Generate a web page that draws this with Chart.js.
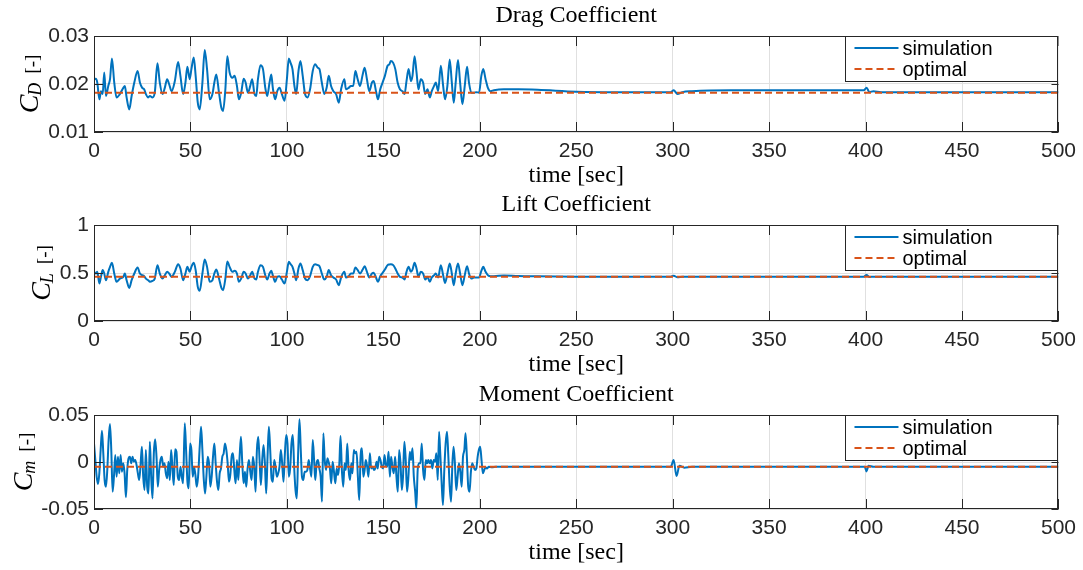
<!DOCTYPE html>
<html lang="en">
<head>
<meta charset="UTF-8">
<title>Drag, Lift and Moment Coefficients</title>
<style>
    body { margin: 0; background: #fff; }
    .panel { position: absolute; left: 0; width: 1083px; height: 190px; }
</style>
<script src="https://cdn.jsdelivr.net/npm/chart.js"></script>
</head>
<body>
<div class="panel" style="top:0px"><canvas id="cdChart" width="1083" height="190"></canvas></div>
<div class="panel" style="top:190px"><canvas id="clChart" width="1083" height="190"></canvas></div>
<div class="panel" style="top:380px"><canvas id="cmChart" width="1083" height="190"></canvas></div>
<script>
// ---- axis ticks ----
const timeTicks = [0, 50, 100, 150, 200, 250, 300, 350, 400, 450, 500];
const cdTicks = [0.01, 0.02, 0.03];
const cdTickLabels = ['0.01', '0.02', '0.03'];
const clTicks = [0, 0.5, 1];
const clTickLabels = ['0', '0.5', '1'];
const cmTicks = [-0.05, 0, 0.05];
const cmTickLabels = ['-0.05', '0', '0.05'];

// ---- optimal (reference) values ----
const optimalTime = [0, 500];
const cdOptimal = [0.0182, 0.0182];
const clOptimal = [0.46, 0.46];
const cmOptimal = [-0.005, -0.005];

// ---- simulation: drag and lift share the same time samples ----
const cdTime = [0.0,1.0,1.7,2.8,3.6,4.5,5.3,6.2,7.4,8.3,9.3,10.5,11.7,13.4,15.2,16.0,16.9,18.3,19.5,20.9,
    22.6,23.8,25.0,26.0,26.9,28.1,29.0,30.3,31.5,32.9,34.1,35.5,36.7,37.9,39.0,40.2,41.9,43.6,44.8,46.2,
    47.4,48.4,49.6,50.5,51.7,52.7,53.8,54.8,56.2,57.4,58.6,60.0,61.4,62.4,63.4,64.8,66.0,66.9,68.1,69.1,
    70.3,71.7,72.9,74.1,75.1,76.3,77.6,78.6,79.8,81.0,82.0,83.2,84.1,85.0,86.3,87.6,88.8,89.8,91.0,91.9,
    92.7,93.9,95.0,96.2,97.4,98.8,100.0,101.0,101.9,102.9,103.9,104.8,106.0,107.0,108.2,109.4,110.7,112.0,113.4,114.6,
    116.0,116.9,118.1,119.4,120.6,121.7,122.9,124.1,125.5,126.9,128.1,129.8,130.6,132.0,133.2,134.4,135.5,136.7,137.9,139.3,
    140.3,141.5,142.7,144.1,145.0,146.2,147.2,148.4,149.6,150.8,152.2,153.1,153.9,155.1,156.2,157.4,158.6,159.9,161.0,162.0,
    163.1,164.3,165.1,166.2,167.2,168.2,169.4,170.6,171.7,172.9,174.1,175.1,176.3,177.2,178.4,179.8,181.0,182.0,183.2,184.4,
    185.5,186.5,187.5,188.7,189.8,191.0,192.2,193.4,194.4,195.6,197.0,198.2,199.6,200.8,201.8,203.0,204.2,205.6,207.3,212.5,
    220,230,250,270,290,299,300.5,302.5,305,310,330,360,390,399,400.5,402,404,408,420,500];

const cdSim = [0.0210,0.0211,0.0203,0.0168,0.0185,0.0179,0.0224,0.0175,0.0196,0.0210,
    0.0253,0.0203,0.0172,0.0179,0.0192,0.0196,0.0172,0.0147,0.0175,0.0203,
    0.0227,0.0203,0.0192,0.0189,0.0179,0.0172,0.0175,0.0172,0.0182,0.0243,
    0.0203,0.0179,0.0192,0.0210,0.0199,0.0185,0.0206,0.0246,0.0217,0.0179,
    0.0203,0.0236,0.0210,0.0231,0.0255,0.0217,0.0161,0.0147,0.0203,0.0271,
    0.0231,0.0168,0.0179,0.0203,0.0220,0.0182,0.0151,0.0144,0.0189,0.0258,
    0.0224,0.0213,0.0217,0.0196,0.0168,0.0182,0.0211,0.0203,0.0182,0.0196,
    0.0210,0.0179,0.0175,0.0210,0.0239,0.0231,0.0192,0.0175,0.0203,0.0220,
    0.0192,0.0168,0.0185,0.0192,0.0179,0.0165,0.0210,0.0253,0.0244,0.0231,
    0.0196,0.0179,0.0227,0.0248,0.0217,0.0179,0.0172,0.0189,0.0227,0.0241,
    0.0234,0.0231,0.0203,0.0179,0.0192,0.0217,0.0196,0.0185,0.0179,0.0161,
    0.0189,0.0210,0.0189,0.0192,0.0196,0.0196,0.0227,0.0210,0.0196,0.0220,
    0.0234,0.0210,0.0185,0.0203,0.0206,0.0185,0.0168,0.0189,0.0203,0.0217,
    0.0238,0.0241,0.0248,0.0244,0.0231,0.0203,0.0189,0.0185,0.0179,0.0206,
    0.0231,0.0206,0.0217,0.0258,0.0224,0.0189,0.0210,0.0203,0.0179,0.0189,
    0.0172,0.0185,0.0196,0.0203,0.0185,0.0238,0.0196,0.0168,0.0196,0.0251,
    0.0203,0.0161,0.0203,0.0250,0.0203,0.0158,0.0196,0.0236,0.0203,0.0182,
    0.0182,0.0183,0.0182,0.0217,0.0231,0.0210,0.0192,0.0185,0.0187,0.0189,
    0.0189,0.0188,0.0184,0.0183,0.0183,0.0183,0.0187,0.0179,0.0183,0.0185,
    0.0187,0.0187,0.0187,0.0187,0.0192,0.0183,0.0185,0.0183,0.0183,0.0183];

const clSim = [0.512,0.495,0.512,0.390,0.460,0.530,0.495,0.425,0.512,0.564,
    0.606,0.495,0.408,0.442,0.460,0.495,0.425,0.345,0.425,0.495,
    0.557,0.495,0.477,0.467,0.442,0.425,0.408,0.418,0.442,0.582,
    0.495,0.442,0.477,0.512,0.495,0.460,0.512,0.592,0.547,0.425,
    0.495,0.564,0.512,0.564,0.606,0.530,0.355,0.314,0.495,0.641,
    0.564,0.408,0.425,0.495,0.536,0.442,0.348,0.321,0.442,0.620,
    0.564,0.512,0.523,0.495,0.408,0.442,0.512,0.495,0.442,0.477,
    0.512,0.442,0.432,0.512,0.582,0.564,0.477,0.432,0.495,0.523,
    0.477,0.408,0.460,0.467,0.432,0.390,0.512,0.617,0.592,0.564,
    0.495,0.425,0.547,0.599,0.530,0.442,0.425,0.467,0.564,0.592,
    0.582,0.571,0.495,0.432,0.460,0.530,0.477,0.453,0.432,0.373,
    0.453,0.512,0.453,0.467,0.495,0.495,0.557,0.530,0.495,0.536,
    0.571,0.512,0.453,0.495,0.502,0.453,0.408,0.467,0.502,0.536,
    0.582,0.589,0.592,0.582,0.547,0.495,0.460,0.453,0.432,0.512,
    0.564,0.512,0.536,0.606,0.547,0.460,0.512,0.495,0.432,0.460,
    0.408,0.453,0.477,0.495,0.453,0.582,0.477,0.397,0.495,0.599,
    0.495,0.373,0.495,0.599,0.495,0.373,0.477,0.571,0.495,0.442,
    0.453,0.453,0.453,0.523,0.564,0.512,0.477,0.467,0.467,0.474,
    0.468,0.465,0.462,0.461,0.461,0.461,0.472,0.455,0.460,0.461,
    0.462,0.462,0.462,0.462,0.478,0.458,0.462,0.460,0.460,0.460];

// ---- simulation: moment coefficient ----
const cmTime = [0.0,0.69,1.38,2.07,2.76,3.45,4.13,4.82,5.51,6.20,6.89,7.58,8.27,8.96,9.65,10.34,11.03,11.72,12.41,13.10,
    13.79,14.48,15.17,15.86,16.54,17.23,17.92,18.61,19.30,19.99,20.68,21.37,22.06,22.75,23.44,24.13,24.82,25.51,26.20,26.89,
    27.57,28.26,28.95,29.64,30.33,31.02,31.71,32.40,33.09,33.78,34.47,35.16,35.85,36.54,37.23,37.92,38.61,39.30,39.98,40.67,
    41.36,42.05,42.74,43.43,44.12,44.81,45.50,46.19,47.05,47.74,48.43,49.12,49.81,50.50,51.19,51.88,52.57,53.26,53.95,54.81,
    55.50,56.19,56.88,57.57,58.26,58.94,59.63,60.32,61.01,61.70,62.39,63.08,63.77,64.46,65.15,65.84,66.53,67.22,67.91,68.60,
    69.29,69.97,70.66,71.35,72.04,72.73,73.42,74.11,74.80,75.49,76.18,76.87,77.56,78.25,78.94,79.63,80.32,81.01,81.70,82.38,
    83.07,83.76,84.45,85.14,85.83,86.52,87.21,87.90,88.59,89.28,89.97,90.66,91.35,92.04,92.73,93.42,94.11,94.80,95.48,96.17,
    96.86,97.55,98.24,98.93,99.62,100.31,101.00,101.69,102.38,103.07,103.76,104.45,105.14,105.83,106.51,
    107.2,107.8,108.5,109.2,109.9,110.6,111.3,112.0,112.7,113.4,114.1,114.7,115.4,116.1,116.8,117.5,118.2,118.9,119.6,120.3,
    121.0,121.6,122.3,123.0,123.7,124.4,125.1,125.8,126.5,127.2,127.8,128.5,129.2,129.9,130.6,131.3,132.0,132.7,133.4,134.0,
    134.7,135.4,136.1,136.8,137.5,138.2,138.9,139.6,140.3,140.9,141.6,142.3,143.0,143.7,144.4,145.1,145.8,146.5,147.1,147.8,
    148.5,149.2,149.9,150.6,151.3,152.0,152.7,153.4,154.0,154.7,155.4,156.1,156.8,157.5,158.2,158.9,159.6,160.2,160.9,161.6,
    162.3,163.0,163.7,164.4,165.1,165.8,166.5,167.1,167.8,168.5,169.2,169.9,170.6,171.3,172.0,172.7,173.3,174.0,174.7,175.4,
    176.1,176.8,177.5,178.2,178.9,179.5,180.2,180.9,181.6,182.3,183.0,183.7,184.4,185.1,185.8,186.4,187.1,187.8,188.5,189.2,
    189.9,190.6,191.3,192.0,192.6,193.3,194.0,194.7,195.4,196.1,196.8,197.5,198.2,198.9,199.5,200.2,200.9,201.6,202.3,203.0,
    203.7,204.7,206.4,208.2,212.5,
    250,299,300.5,302,303.5,306,310,399.5,400.5,401.5,404,500];

const cmSim = [0.0198,0.0021,-0.0156,-0.0234,-0.0121,0.0128,0.0333,0.0092,-0.0192,-0.0263,-0.0085,0.0234,0.0404,0.0128,-0.0316,-0.0156,0.0074,-0.0156,0.0057,-0.0121,
    0.0074,-0.0103,-0.0014,-0.0121,-0.0376,-0.0085,0.0039,0.0057,-0.0014,0.0057,0.0003,0.0021,-0.0032,-0.0121,-0.0192,-0.0032,0.0163,-0.0156,-0.0298,0.0128,
    -0.0263,-0.0334,0.0216,-0.0156,-0.0387,0.0092,0.0241,0.0057,-0.0263,-0.0085,0.0021,0.0057,-0.0050,-0.0014,-0.0121,-0.0174,0.0003,-0.0192,0.0128,-0.0068,
    -0.0245,0.0135,0.0110,-0.0156,-0.0192,-0.0050,-0.0156,-0.0227,0.0411,0.0128,-0.0209,-0.0280,0.0198,0.0128,-0.0156,-0.0050,-0.0138,-0.0263,-0.0156,0.0163,
    0.0376,0.0128,-0.0174,-0.0334,-0.0156,0.0057,-0.0014,-0.0263,-0.0156,0.0057,0.0198,-0.0014,-0.0209,-0.0298,-0.0121,-0.0068,0.0057,0.0092,0.0198,0.0128,
    -0.0014,-0.0209,-0.0138,0.0057,0.0092,-0.0085,-0.0227,0.0021,-0.0192,0.0057,0.0269,-0.0014,-0.0227,-0.0103,-0.0263,-0.0068,0.0021,-0.0103,-0.0192,0.0057,
    -0.0050,-0.0316,0.0128,0.0269,0.0021,-0.0245,0.0021,0.0181,-0.0014,-0.0334,0.0057,0.0376,0.0128,-0.0174,-0.0209,0.0021,-0.0050,-0.0156,-0.0121,-0.0050,
    0.0128,-0.0014,-0.0209,0.0074,0.0287,0.0198,-0.0156,-0.0068,0.0198,0.0287,-0.0050,-0.0298,-0.0387,0.0092,0.0454,
    0.0128,-0.0156,-0.0192,-0.0103,-0.0103,-0.0085,0.0021,-0.0068,-0.0156,0.0234,0.0021,-0.0192,-0.0014,0.0021,-0.0068,-0.0156,-0.0422,0.0305,0.0021,-0.0085,
    0.0039,0.0003,-0.0068,-0.0227,0.0003,-0.0103,-0.0227,-0.0068,-0.0138,-0.0014,0.0276,-0.0085,-0.0263,-0.0014,-0.0085,0.0198,-0.0085,-0.0192,-0.0014,-0.0121,
    0.0128,0.0092,0.0110,-0.0156,-0.0404,0.0057,0.0145,-0.0156,-0.0085,0.0021,-0.0050,-0.0156,0.0092,-0.0068,-0.0050,-0.0085,-0.0068,0.0003,-0.0068,0.0057,
    0.0021,-0.0050,-0.0068,0.0074,-0.0032,-0.0050,0.0110,-0.0156,0.0057,-0.0050,-0.0121,0.0057,-0.0156,-0.0316,0.0128,-0.0014,-0.0298,-0.0156,0.0216,0.0021,
    -0.0316,-0.0156,0.0110,0.0021,0.0145,-0.0156,-0.0316,-0.0493,-0.0085,-0.0014,-0.0014,0.0198,-0.0085,-0.0192,0.0021,-0.0014,0.0021,-0.0014,0.0021,-0.0068,
    0.0021,0.0003,0.0092,-0.0192,0.0323,0.0092,-0.0209,-0.0458,-0.0085,0.0198,0.0323,0.0057,-0.0263,-0.0422,-0.0014,0.0163,-0.0014,-0.0298,-0.0156,-0.0014,
    -0.0103,-0.0263,0.0057,0.0128,0.0305,0.0057,-0.0263,-0.0316,-0.0103,-0.0014,-0.0050,-0.0085,-0.0068,0.0057,0.0128,0.0163,0.0021,-0.0121,-0.0085,-0.0057,
    -0.0068,-0.0050,-0.0057,-0.0050,-0.0050,
    -0.0050,-0.0050,0.0020,-0.0150,-0.0040,-0.0060,-0.0050,-0.0050,-0.0100,-0.0040,-0.0050,-0.0050];

// ---- look ----
const blue = '#0072BD';
const orange = '#D95319';
const axisColor = '#262626';
const gridColor = '#e0e0e0';
const tickFont = { family: 'Liberation Sans', size: 21 };
const serif = '"Liberation Serif", "DejaVu Serif", serif';

function pairs(xs, ys) {
    return xs.map((x, i) => ({ x: x, y: ys[i] }));
}

// draws box, inward ticks, legend, title and axis labels like MATLAB does
const decor = {
    id: 'decor',
    afterDraw(chart, args, o) {
        const ctx = chart.ctx;
        const a = chart.chartArea;
        const xs = chart.scales.x, ys = chart.scales.y;
        ctx.save();

        // axes box
        ctx.strokeStyle = axisColor;
        ctx.lineWidth = 1;
        ctx.strokeRect(Math.round(a.left) + 0.5, Math.round(a.top) + 0.5,
            Math.round(a.right - a.left) - 1, Math.round(a.bottom - a.top) - 1);

        // inward tick marks
        ctx.beginPath();
        timeTicks.forEach(v => {
            const px = Math.round(xs.getPixelForValue(v)) + 0.5;
            ctx.moveTo(px, a.bottom); ctx.lineTo(px, a.bottom - 10);
            ctx.moveTo(px, a.top); ctx.lineTo(px, a.top + 10);
        });
        o.yTicks.forEach(v => {
            const py = Math.round(ys.getPixelForValue(v)) + 0.5;
            ctx.moveTo(a.left, py); ctx.lineTo(a.left + 9, py);
            ctx.moveTo(a.right, py); ctx.lineTo(a.right - 7, py);
        });
        ctx.stroke();

        // legend box
        const lx = a.right - 213, ly = a.top;
        ctx.fillStyle = '#fff';
        ctx.fillRect(lx, ly, 213, 45);
        ctx.strokeRect(Math.round(lx) + 0.5, Math.round(ly) + 0.5, 212, 45);
        chart.data.datasets.forEach((ds, i) => {
            const ry = ly + 12 + i * 21;
            ctx.save();
            ctx.strokeStyle = ds.borderColor;
            ctx.lineWidth = 2;
            ctx.setLineDash(ds.borderDash || []);
            ctx.beginPath();
            ctx.moveTo(lx + 9, ry); ctx.lineTo(lx + 53, ry);
            ctx.stroke();
            ctx.restore();
            ctx.fillStyle = '#000';
            ctx.font = '20px "Liberation Sans"';
            ctx.textAlign = 'left';
            ctx.textBaseline = 'middle';
            ctx.fillText(ds.label, lx + 57, ry + 1);
        });

        // title and x label
        const cx = (a.left + a.right) / 2;
        ctx.fillStyle = '#000';
        ctx.textAlign = 'center';
        ctx.textBaseline = 'alphabetic';
        ctx.font = '24px ' + serif;
        ctx.fillText(o.title, cx, a.top - 14);
        ctx.fillText('time [sec]', cx, a.bottom + 50);

        // y label: C with italic subscript, then [-]
        ctx.translate(o.labelX, (a.top + a.bottom) / 2);
        ctx.rotate(-Math.PI / 2);
        ctx.textAlign = 'left';
        ctx.font = 'italic 28px ' + serif;
        const w1 = ctx.measureText('C').width;
        ctx.font = 'italic 18px ' + serif;
        const w2 = ctx.measureText(o.sub).width;
        ctx.font = '19px ' + serif;
        const w3 = ctx.measureText('[-]').width;
        const gap = 8;
        let x0 = -(w1 + w2 + gap + w3) / 2;
        ctx.font = 'italic 28px ' + serif;
        ctx.fillText('C', x0, 0);
        ctx.font = 'italic 18px ' + serif;
        ctx.fillText(o.sub, x0 + w1 - 1, 3);
        ctx.font = '19px ' + serif;
        ctx.fillText('[-]', x0 + w1 + w2 + gap, 0);

        ctx.restore();
    }
};

function makePanel(id, p) {
    return new Chart(document.getElementById(id), {
        type: 'line',
        data: {
            datasets: [
                {
                    label: 'simulation',
                    data: pairs(p.time, p.sim),
                    borderColor: blue,
                    borderWidth: 2,
                    pointRadius: 0,
                    cubicInterpolationMode: 'monotone',
                    borderJoinStyle: 'round',
                    order: 1
                },
                {
                    label: 'optimal',
                    data: pairs(optimalTime, p.opt),
                    borderColor: orange,
                    borderWidth: 2,
                    borderDash: [7, 4],
                    pointRadius: 0,
                    order: 0
                }
            ]
        },
        options: {
            responsive: false,
            animation: false,
            devicePixelRatio: 1,
            layout: { padding: { left: 0, right: 22, top: p.top, bottom: 0 } },
            plugins: {
                legend: { display: false },
                tooltip: { enabled: false },
                decor: { title: p.title, sub: p.sub, labelX: p.labelX, yTicks: p.ticks }
            },
            scales: {
                x: {
                    type: 'linear',
                    min: 0, max: 500,
                    afterBuildTicks: s => { s.ticks = timeTicks.map(v => ({ value: v })); },
                    afterFit: s => { s.height = p.xh; },
                    ticks: { font: tickFont, color: axisColor, padding: 7, maxRotation: 0, callback: v => String(v) },
                    grid: { color: gridColor, drawTicks: false },
                    border: { display: false }
                },
                y: {
                    min: p.min, max: p.max,
                    afterBuildTicks: s => { s.ticks = p.ticks.map(v => ({ value: v })); },
                    afterFit: s => { s.width = 94; },
                    ticks: { font: tickFont, color: axisColor, padding: 5, callback: (v, i) => p.labels[i] },
                    grid: { color: gridColor, drawTicks: false },
                    border: { display: false }
                }
            }
        },
        plugins: [decor]
    });
}

makePanel('cdChart', { time: cdTime, sim: cdSim, opt: cdOptimal, min: 0.01, max: 0.03,
    ticks: cdTicks, labels: cdTickLabels, title: 'Drag Coefficient', sub: 'D', labelX: 38, top: 36, xh: 58 });
makePanel('clChart', { time: cdTime, sim: clSim, opt: clOptimal, min: 0, max: 1,
    ticks: clTicks, labels: clTickLabels, title: 'Lift Coefficient', sub: 'L', labelX: 50, top: 35, xh: 59 });
makePanel('cmChart', { time: cmTime, sim: cmSim, opt: cmOptimal, min: -0.05, max: 0.05,
    ticks: cmTicks, labels: cmTickLabels, title: 'Moment Coefficient', sub: 'm', labelX: 32, top: 35, xh: 61 });
</script>
</body>
</html>
